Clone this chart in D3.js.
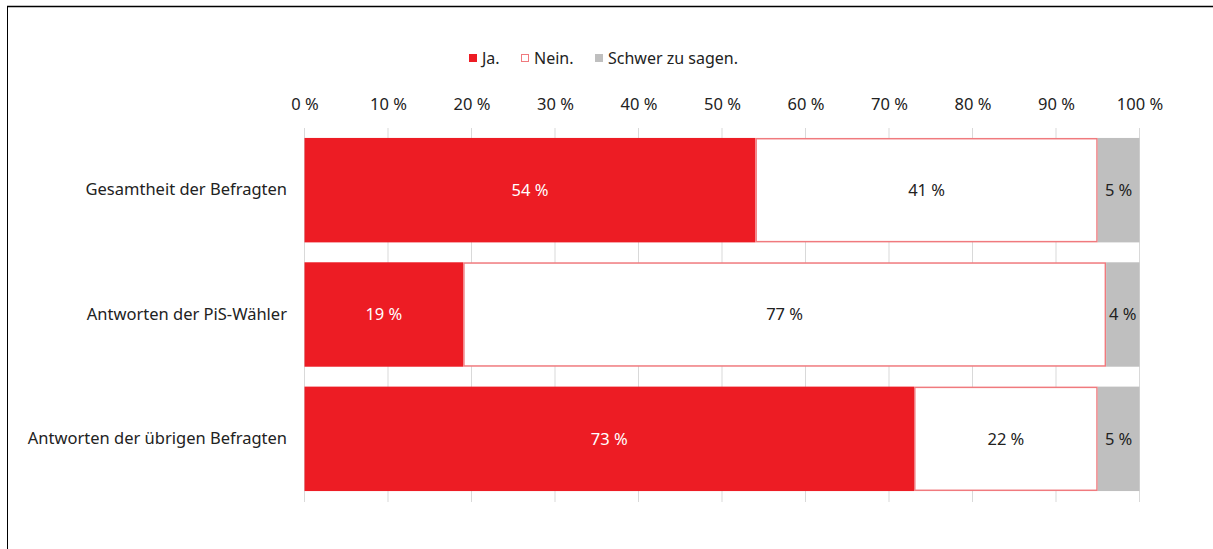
<!DOCTYPE html>
<html><head><meta charset="utf-8">
<script src="https://cdn.jsdelivr.net/npm/d3@7"></script>
<style>body{margin:0;background:#fff}svg{display:block;font-family:"Noto Sans",sans-serif}</style>
</head><body><svg id="c" width="1213" height="549"></svg>
<script>
const categories = ["Gesamtheit der Befragten", "Antworten der PiS-Wähler", "Antworten der übrigen Befragten"];
const seriesNames = ["Ja.", "Nein.", "Schwer zu sagen."];
const ja = [54, 19, 73];
const nein = [41, 77, 22];
const schwer = [5, 4, 5];
const ticks = [0,10,20,30,40,50,60,70,80,90,100];

const svg = d3.select("#c");
const font = 16;
const ff = "'Noto Sans',sans-serif";
// frame
svg.append("line").attr("x1",7).attr("x2",1213).attr("y1",6.5).attr("y2",6.5).attr("stroke","#000").attr("stroke-width",1.5);
svg.append("line").attr("x1",7.5).attr("x2",7.5).attr("y1",6).attr("y2",549).attr("stroke","#000").attr("stroke-width",1);

const x = d3.scaleLinear().domain([0,100]).range([304.5,1139.5]);
const y = d3.scaleBand().domain(categories).range([128,501]).paddingInner(0.16).paddingOuter(0.08);

// gridlines
svg.append("g").selectAll("line").data(ticks).join("line")
  .attr("x1",d=>x(d)).attr("x2",d=>x(d)).attr("y1",128).attr("y2",502)
  .attr("stroke","#d9d9d9").attr("stroke-width",1);

// top axis labels
const ax = d3.axisTop(x).tickValues(ticks).tickFormat(d=>d+" %").tickSize(0).tickPadding(0);
const axg = svg.append("g").attr("transform","translate(0,110)").call(ax);
axg.select(".domain").remove();
axg.selectAll("text").attr("font-size",16.5).attr("fill","#222").attr("font-family",ff);

// category labels
const yax = d3.axisLeft(y).tickSize(0).tickPadding(0);
const yg = svg.append("g").attr("transform","translate(287,0)").call(yax);
yg.select(".domain").remove();
yg.selectAll("text").attr("font-size",16.5).attr("fill","#222").attr("font-family",ff);

const rows = categories.map((c,i)=>({c, vals:[ja[i],nein[i],schwer[i]]}));
const colors = ["#ed1c24","#ffffff","#bfbfbf"];
const strokes = ["#ed1c24","#f07a7e","#bfbfbf"];
const textCol = ["#ffffff","#222","#222"];

rows.forEach(r=>{
  let acc=0;
  r.vals.forEach((v,k)=>{
    const x0=x(acc), x1=x(acc+v);
    const g=svg.append("g");
    g.append("rect").attr("x",x0+(k===1?0.75:0)).attr("y",y(r.c)+(k===1?0.75:0))
      .attr("width",x1-x0-(k===1?1.5:0)).attr("height",y.bandwidth()-(k===1?1.5:0))
      .attr("fill",colors[k]).attr("stroke",k===1?strokes[k]:"none").attr("stroke-width",1.5);
    g.append("text").attr("x",(x0+x1)/2).attr("y",y(r.c)+y.bandwidth()/2).attr("dy","0.35em")
      .attr("text-anchor","middle").attr("font-size",16.5).attr("fill",textCol[k]).text(v+" %");
    acc+=v;
  });
});

// legend
const legX=[469,521,595];
seriesNames.forEach((n,k)=>{
  svg.append("rect").attr("x",legX[k]+0.5).attr("y",54.5).attr("width",7).attr("height",7)
    .attr("fill",colors[k]).attr("stroke",strokes[k]).attr("stroke-width",1);
  svg.append("text").attr("x",legX[k]+13).attr("y",58).attr("dy","0.35em").attr("font-size",font).attr("fill","#222").text(n);
});
</script></body></html>
